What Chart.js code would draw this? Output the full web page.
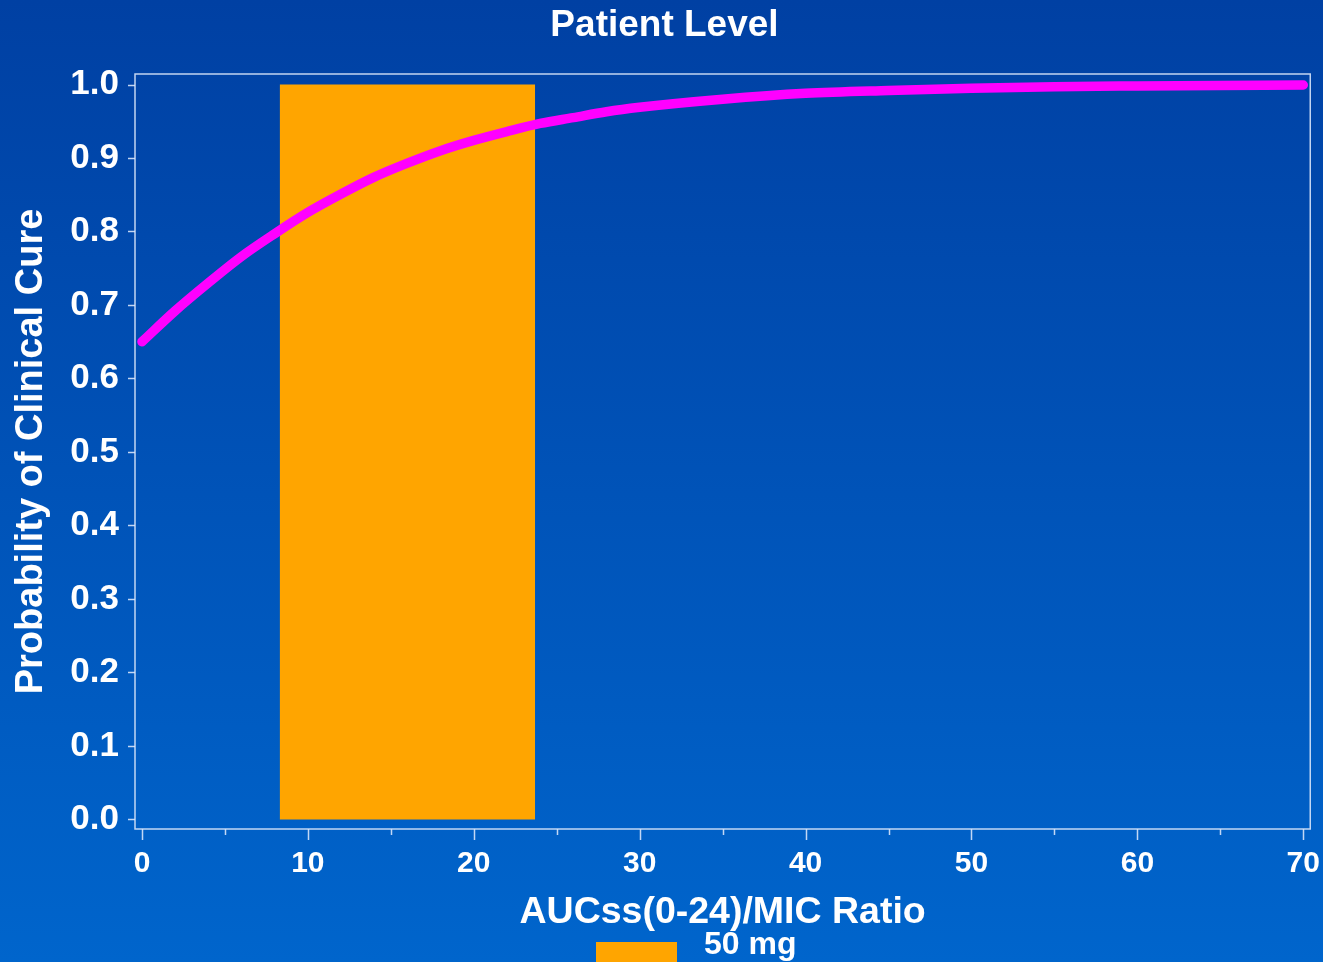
<!DOCTYPE html>
<html>
<head>
<meta charset="utf-8">
<title>Patient Level</title>
<script src="https://cdn.jsdelivr.net/npm/chart.js@4.4.1/dist/chart.umd.min.js"></script>
<style>
  html, body { margin: 0; padding: 0; background: #0052b8; overflow: hidden; }
  #wrap { width: 1323px; height: 962px; position: relative; }
  canvas { display: block; }
</style>
</head>
<body>
<div id="wrap"><canvas id="c" width="1323" height="962"></canvas></div>
<script>
// AUCss(0-24)/MIC ratio and the modelled probability of clinical cure
const ratioX = [0, 2, 4, 6, 8, 10, 12, 14, 16, 18, 20, 22, 24, 26, 28, 30, 35, 40, 45, 50, 55, 60, 65, 70];
const cureProb = [0.650, 0.692, 0.730, 0.766, 0.797, 0.826, 0.851, 0.874, 0.893, 0.910, 0.924, 0.936,
                  0.947, 0.955, 0.963, 0.969, 0.980, 0.988, 0.992, 0.995, 0.997, 0.998, 0.9988, 0.9993];

// Ratio range reached with the 50 mg dose (shaded band, full probability height)
const doseRangeX = [8.3, 23.7];
const doseRangeTop = [1.0, 1.0];
const doseLabel = '50 mg';

// Axis ticks
const xTicks = [0, 10, 20, 30, 40, 50, 60, 70];
const xMinorTicks = [5, 15, 25, 35, 45, 55, 65];
const yTicks = [0.0, 0.1, 0.2, 0.3, 0.4, 0.5, 0.6, 0.7, 0.8, 0.9, 1.0];

const FONT = "'Liberation Sans', Arial, Helvetica, sans-serif";
const FRAME_COLOR = 'rgba(215, 228, 250, 0.9)';

const backgroundPlugin = {
  id: 'slideBackground',
  beforeDraw(chart) {
    const { ctx, width, height } = chart;
    const g = ctx.createLinearGradient(0, 0, 0, height);
    g.addColorStop(0, '#0040a3');
    g.addColorStop(1, '#0065cc');
    ctx.save();
    ctx.fillStyle = g;
    ctx.fillRect(0, 0, width, height);
    ctx.restore();
  }
};

// Plot frame plus outward tick marks (major and minor)
const framePlugin = {
  id: 'frameAndTicks',
  afterDraw(chart) {
    const { ctx, chartArea: a, scales } = chart;
    ctx.save();
    ctx.strokeStyle = FRAME_COLOR;
    ctx.lineWidth = 1.5;
    ctx.strokeRect(a.left, a.top, a.right - a.left, a.bottom - a.top);
    ctx.beginPath();
    yTicks.forEach(v => {
      const y = Math.round(scales.y.getPixelForValue(v)) + 0.5;
      ctx.moveTo(a.left - 7, y);
      ctx.lineTo(a.left, y);
    });
    xTicks.forEach(v => {
      const x = Math.round(scales.x.getPixelForValue(v)) + 0.5;
      ctx.moveTo(x, a.bottom);
      ctx.lineTo(x, a.bottom + 11);
    });
    xMinorTicks.forEach(v => {
      const x = Math.round(scales.x.getPixelForValue(v)) + 0.5;
      ctx.moveTo(x, a.bottom);
      ctx.lineTo(x, a.bottom + 6);
    });
    ctx.stroke();
    ctx.restore();
  }
};

const legendPlugin = {
  id: 'doseLegend',
  afterDraw(chart) {
    const ds = chart.data.datasets[1];
    const { ctx } = chart;
    ctx.save();
    ctx.fillStyle = ds.backgroundColor;
    ctx.fillRect(596, 942, 81, 24);
    ctx.fillStyle = '#ffffff';
    ctx.font = `bold 32px ${FONT}`;
    ctx.textAlign = 'left';
    ctx.textBaseline = 'alphabetic';
    ctx.fillText(ds.label, 704, 954);
    ctx.restore();
  }
};

new Chart(document.getElementById('c'), {
  type: 'line',
  data: {
    datasets: [
      {
        label: 'Probability of Clinical Cure',
        data: ratioX.map((x, i) => ({ x, y: cureProb[i] })),
        borderColor: '#ff00ff',
        borderWidth: 9.5,
        borderCapStyle: 'round',
        borderJoinStyle: 'round',
        cubicInterpolationMode: 'monotone',
        pointRadius: 0,
        fill: false,
        order: 0
      },
      {
        label: doseLabel,
        data: doseRangeX.map((x, i) => ({ x, y: doseRangeTop[i] })),
        borderWidth: 0,
        borderColor: 'rgba(0,0,0,0)',
        backgroundColor: '#ffa500',
        pointRadius: 0,
        fill: 'origin',
        order: 1
      }
    ]
  },
  options: {
    responsive: false,
    animation: false,
    devicePixelRatio: 1,
    layout: { padding: { left: 12, right: 6, top: 0, bottom: 0 } },
    plugins: {
      legend: { display: false },
      tooltip: { enabled: false },
      title: {
        display: true,
        text: 'Patient Level',
        color: '#ffffff',
        font: { family: FONT, size: 37, weight: 'bold' },
        padding: { top: 4, bottom: 25.6 }
      }
    },
    scales: {
      x: {
        type: 'linear',
        min: -0.42,
        max: 70.42,
        grid: { display: false, drawTicks: true, tickLength: 14 },
        border: { display: false },
        afterBuildTicks: s => { s.ticks = xTicks.map(v => ({ value: v })); },
        afterFit: s => { s.height = 133; },
        ticks: {
          color: '#ffffff',
          padding: 3,
          maxRotation: 0,
          autoSkip: false,
          font: { family: FONT, size: 30, weight: 'bold' },
          callback: v => String(v)
        },
        title: {
          display: true,
          text: 'AUCss(0-24)/MIC Ratio',
          color: '#ffffff',
          font: { family: FONT, size: 37.5, weight: 'bold' },
          padding: { top: 0, bottom: 27 }
        }
      },
      y: {
        type: 'linear',
        min: -0.013,
        max: 1.0143,
        grid: { display: false, drawTicks: true, tickLength: 16 },
        border: { display: false },
        afterBuildTicks: s => { s.ticks = yTicks.map(v => ({ value: v })); },
        afterFit: s => { s.width = 123; },
        ticks: {
          color: '#ffffff',
          padding: 0,
          autoSkip: false,
          font: { family: FONT, size: 35, weight: 'bold' },
          callback: v => Number(v).toFixed(1)
        },
        title: {
          display: true,
          text: 'Probability of Clinical Cure',
          color: '#ffffff',
          font: { family: FONT, size: 38, weight: 'bold' },
          padding: { top: -3, bottom: 0 }
        }
      }
    }
  },
  plugins: [backgroundPlugin, framePlugin, legendPlugin]
});
</script>
</body>
</html>
